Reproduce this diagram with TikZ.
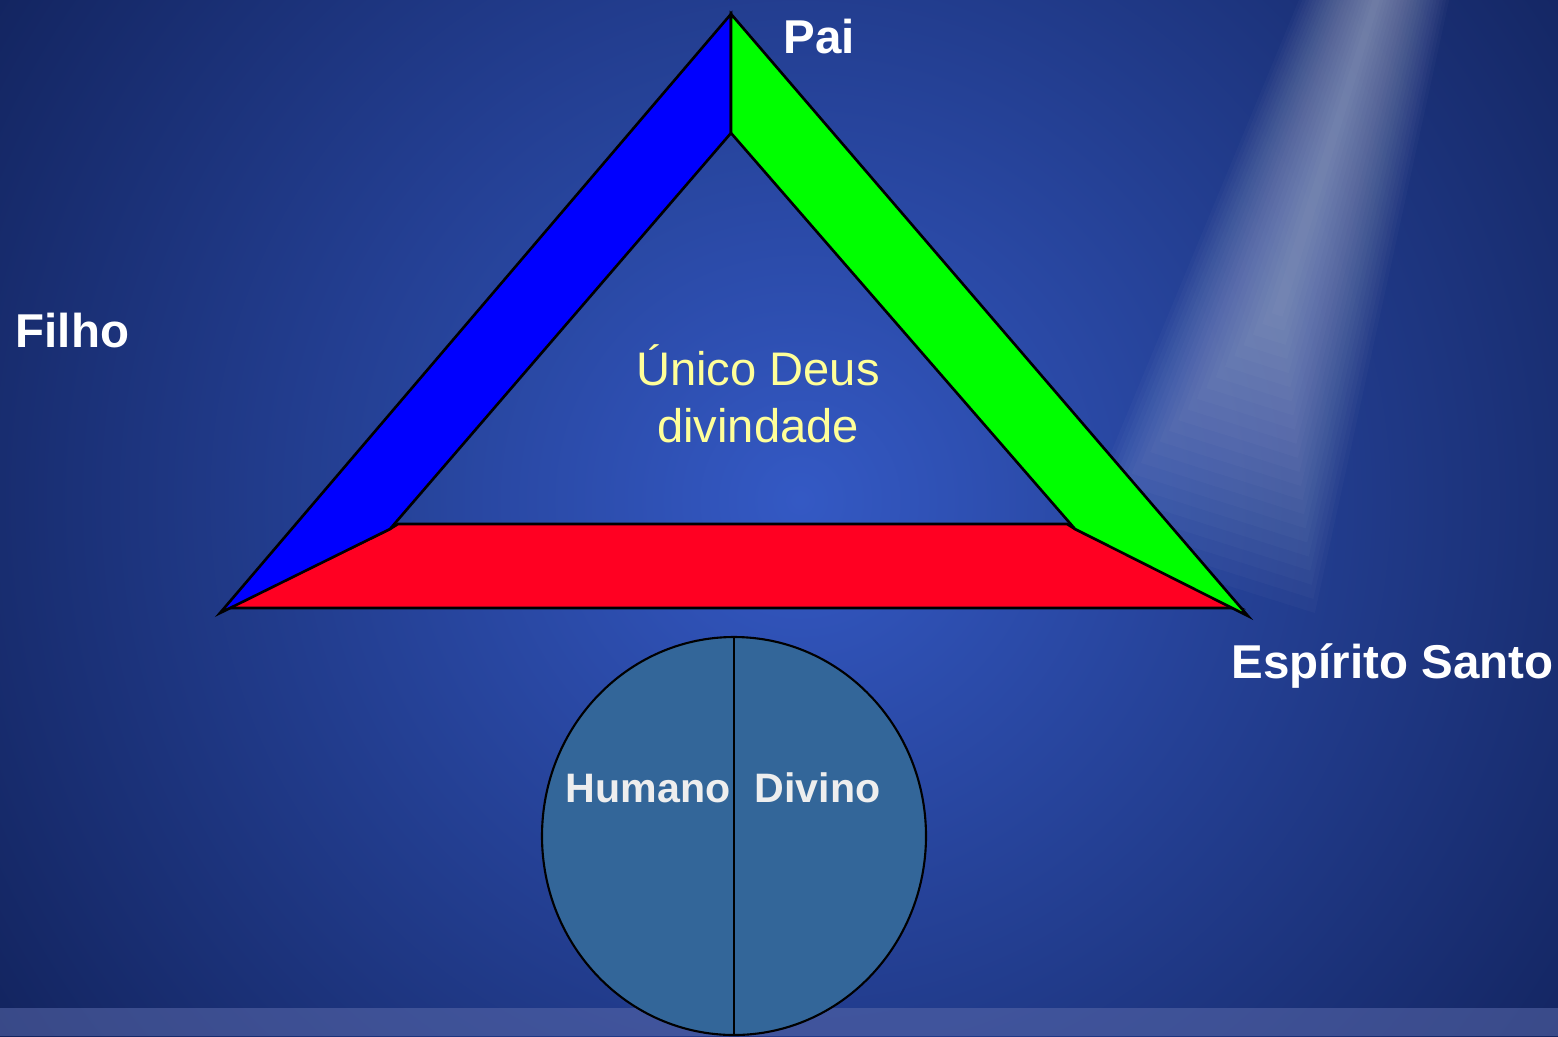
\documentclass[tikz,border=0pt]{standalone}
\usepackage{fontspec}
\setmainfont{Liberation Sans}
\begin{document}
\begin{tikzpicture}[x=0.01cm,y=-0.01cm,
  lbl/.style={font=\fontsize{13.5pt}{16pt}\selectfont\bfseries, text=white, inner sep=0pt, anchor=base west},
  inlbl/.style={font=\fontsize{13.4pt}{16pt}\selectfont, text=ltyellow, inner sep=0pt, anchor=base},
  halflbl/.style={font=\fontsize{11.7pt}{14pt}\selectfont\bfseries, text=ltgray, inner sep=0pt, anchor=base west},
  side/.style={draw=black, line width=0.75pt, line join=miter}]
\definecolor{ltyellow}{HTML}{FFFF99}
\definecolor{ltgray}{HTML}{EEEEEE}
\definecolor{bgmid}{HTML}{3459C4}
\definecolor{bgdark}{HTML}{0B1848}
\definecolor{stripc}{HTML}{5A69AA}
\definecolor{discblue}{HTML}{336699}
\definecolor{sonblue}{HTML}{0000FF}
\definecolor{spgreen}{HTML}{00FF00}
\definecolor{fared}{HTML}{FF0022}
\useasboundingbox (0,0) rectangle (1558,1036);
% background
\begin{scope}
\clip (0,0) rectangle (1558,1036);
\fill[bgdark] (0,0) rectangle (1558,1036);
\shade[inner color=bgmid, outer color=bgdark] (800,500) circle (1180);
% light beam
\foreach \i in {1,...,22}{
  \pgfmathsetmacro\w{3*\i}
  \pgfmathsetmacro\L{380+13*\i}
  \fill[white, opacity=0.022]
    ({1395-0.954*\w},{-60-0.3*\w}) -- ({1395+0.954*\w},{-60+0.3*\w})
    -- ({1395-0.3*\L+1.9*0.954*\w},{-60+0.954*\L+1.9*0.3*\w})
    -- ({1395-0.3*\L-1.9*0.954*\w},{-60+0.954*\L-1.9*0.3*\w}) -- cycle;
}
% bottom strip
\fill[stripc, opacity=0.55] (0,1008) rectangle (1558,1036);
\end{scope}
% triangle
\coordinate (apex) at (731,14);
\coordinate (inapex) at (731,133);
\coordinate (ltip) at (220,613);
\coordinate (rtip) at (1248,616);
\coordinate (ljoin) at (390,529);
\coordinate (rjoin) at (1075,529);
\coordinate (lcorner) at (398,524);
\coordinate (rcorner) at (1067,524);
\coordinate (lbase) at (228,608);
\coordinate (rbase) at (1240,608);
\draw[side, fill=fared] (lbase) -- (ljoin) -- (lcorner) -- (rcorner) -- (rjoin) -- (rbase) -- cycle;
\draw[side, fill=sonblue] (apex) -- (ltip) -- (ljoin) -- (inapex) -- cycle;
\draw[side, fill=spgreen] (apex) -- (rtip) -- (rjoin) -- (inapex) -- cycle;
% labels
\node[lbl] (pai) at (783,53) {Pai};
\node[lbl] (filho) at (15,347) {Filho};
\node[lbl] (esp) at (1231,678) {Espírito Santo};
\node[inlbl] (unico) at (758,385) {Único Deus};
\node[inlbl] (divind) at (758,442) {divindade};
% disc
\draw[fill=discblue, line width=0.6pt] (734,836) ellipse [x radius=192, y radius=199];
\coordinate (dtop) at (734,637);
\coordinate (dbot) at (734,1036);
\draw[line width=0.6pt] (dtop) -- (dbot);
\node[halflbl] (hum) at (565,802) {Humano};
\node[halflbl] (div) at (754,802) {Divino};
\end{tikzpicture}
\end{document}
